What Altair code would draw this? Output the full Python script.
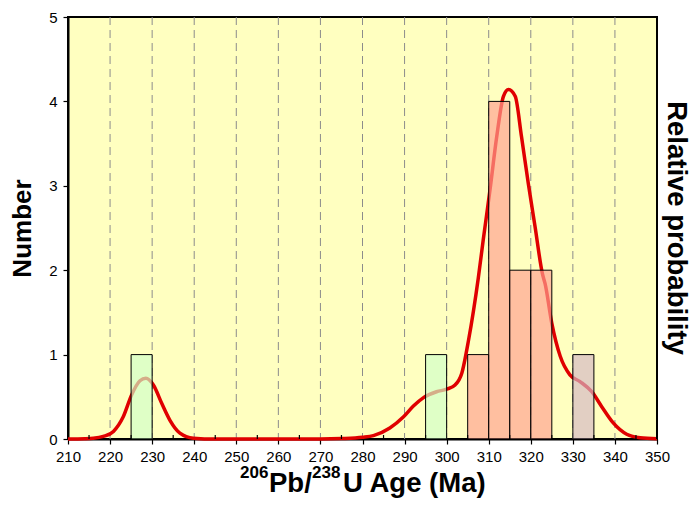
import altair as alt
import pandas as pd

# Histogram bins (Ma) and counts
bin_start = [225, 295, 305, 310, 315, 320, 330]
bin_end = [230, 300, 310, 315, 320, 325, 335]
counts = [1, 1, 1, 4, 2, 2, 1]
groups = ["A", "A", "B", "B", "B", "B", "C"]

# Relative probability curve (in "Number" units)
curve_age = [210, 214, 216, 218.4, 220.8, 223.1, 225.1, 227.1, 228.5, 230.3, 232.3,
             234.2, 236.6, 239.8, 245, 270, 275, 280, 282.6, 286.5, 289.7, 292.1,
             294.5, 297.6, 300, 302, 303.6, 305.2, 307.5, 308.7, 310.3, 311.9, 313.5,
             314.7, 316.3, 317.8, 319.4, 321.0, 322.8, 323.4, 325.0, 327.0, 329.3,
             331.7, 334.5, 336.9, 339.6, 342.8, 346.0, 350]
curve_prob = [0.0, 0.003, 0.008, 0.03, 0.09, 0.26, 0.52, 0.69, 0.72, 0.64, 0.42,
              0.225, 0.07, 0.01, 0.0, 0.0, 0.005, 0.02, 0.04, 0.13, 0.26, 0.39,
              0.49, 0.56, 0.59, 0.64, 0.78, 1.17, 1.90, 2.36, 2.95, 3.58, 4.06,
              4.14, 4.06, 3.58, 3.03, 2.52, 1.95, 1.84, 1.37, 0.98, 0.76,
              0.68, 0.56, 0.38, 0.19, 0.056, 0.015, 0.004]

x_ticks = list(range(210, 351, 10))
grid_lines = list(range(220, 341, 10))
minor_ticks = list(range(215, 350, 10))
y_ticks = [0, 1, 2, 3, 4, 5]

W, H = 589, 422
FONT = "Liberation Sans"

bars_df = pd.DataFrame({"start": bin_start, "end": bin_end, "count": counts,
                        "base": [0] * len(counts), "grp": groups})
curve_df = pd.DataFrame({"age": curve_age, "prob": curve_prob})
minor_df = pd.DataFrame({"m": minor_ticks})
grid_df = pd.DataFrame({"g": grid_lines})

xscale = alt.Scale(domain=[210, 350], nice=False, zero=False)
yscale = alt.Scale(domain=[0, 5], nice=False)

x_axis = alt.Axis(values=x_ticks, title=None, grid=False, labelFontSize=15,
                  labelFont=FONT, labelColor="black", tickSize=5, tickColor="black",
                  tickWidth=1.2, labelPadding=5, domain=True, domainColor="black",
                  domainWidth=2, labelFlush=False, format="d")
y_axis = alt.Axis(values=y_ticks, title="Number", grid=False, labelFontSize=15,
                  labelFont=FONT, labelColor="black", tickSize=5, tickColor="black",
                  tickWidth=1.2, labelPadding=6, domain=True, domainColor="black",
                  domainWidth=2, format="d", titleFont=FONT, titleFontSize=26,
                  titleFontWeight="bold", titleColor="black", titleX=-46, titleY=H / 2,
                  titleAngle=-90, titleAlign="center", titleBaseline="middle")

grid = alt.Chart(grid_df).mark_rule(color="#8c8c8c", strokeWidth=1,
                                    strokeDash=[8, 5]).encode(
    x=alt.X("g:Q", scale=xscale, axis=x_axis),
)

curve = alt.Chart(curve_df).mark_line(color="#E00000", strokeWidth=3.5,
                                      interpolate="monotone").encode(
    x=alt.X("age:Q", scale=xscale, axis=x_axis),
    y=alt.Y("prob:Q", scale=yscale, axis=y_axis),
)

bars = alt.Chart(bars_df).mark_rect(stroke="black", strokeWidth=1,
                                    fillOpacity=0.68).encode(
    x=alt.X("start:Q", scale=xscale),
    x2="end:Q",
    y=alt.Y("count:Q", scale=yscale),
    y2="base:Q",
    color=alt.Color("grp:N", legend=None,
                    scale=alt.Scale(domain=["A", "B", "C"],
                                    range=["#D0FFC8", "#FFA090", "#D4B8C4"])),
)

minor = alt.Chart(minor_df).mark_rule(color="black", strokeWidth=1.2).encode(
    x=alt.X("m:Q", scale=xscale),
    y=alt.value(H),
    y2=alt.value(H - 4),
)

# right frame edge drawn solid on top
frame = alt.Chart(pd.DataFrame({"f": [350]})).mark_rule(color="black", strokeWidth=2).encode(
    x=alt.X("f:Q", scale=xscale),
)

right_title = alt.Chart(pd.DataFrame({"t": ["Relative probability"]})).mark_text(
    angle=90, align="center", baseline="middle", font=FONT, fontSize=27.5,
    fontWeight="bold", color="black").encode(
    x=alt.value(608), y=alt.value(H / 2), text="t:N")

big_y = 53
small_y = 39
BIG = 27.5
t1 = alt.Chart(pd.DataFrame({"t": ["206"]})).mark_text(
    align="left", baseline="alphabetic", font=FONT, fontSize=17, fontWeight="bold",
    color="black").encode(x=alt.value(172), y=alt.value(H + small_y), text="t:N")
t2 = alt.Chart(pd.DataFrame({"t": ["Pb/"]})).mark_text(
    align="left", baseline="alphabetic", font=FONT, fontSize=BIG, fontWeight="bold",
    color="black").encode(x=alt.value(201), y=alt.value(H + big_y), text="t:N")
t3 = alt.Chart(pd.DataFrame({"t": ["238"]})).mark_text(
    align="left", baseline="alphabetic", font=FONT, fontSize=17, fontWeight="bold",
    color="black").encode(x=alt.value(244), y=alt.value(H + small_y), text="t:N")
t4 = alt.Chart(pd.DataFrame({"t": ["U Age (Ma)"]})).mark_text(
    align="left", baseline="alphabetic", font=FONT, fontSize=BIG, fontWeight="bold",
    color="black").encode(x=alt.value(275), y=alt.value(H + big_y), text="t:N")

chart = alt.layer(grid, curve, bars, minor, frame, right_title, t1, t2, t3, t4).properties(
    width=W, height=H,
    autosize=alt.AutoSizeParams(type="none"),
    padding={"left": 68, "top": 17, "right": 36, "bottom": 72},
    background="white",
).configure_view(
    fill="#FFFFC0", stroke="black", strokeWidth=2
)

chart.save("out.html", embed_options={"renderer": "svg", "actions": False})
